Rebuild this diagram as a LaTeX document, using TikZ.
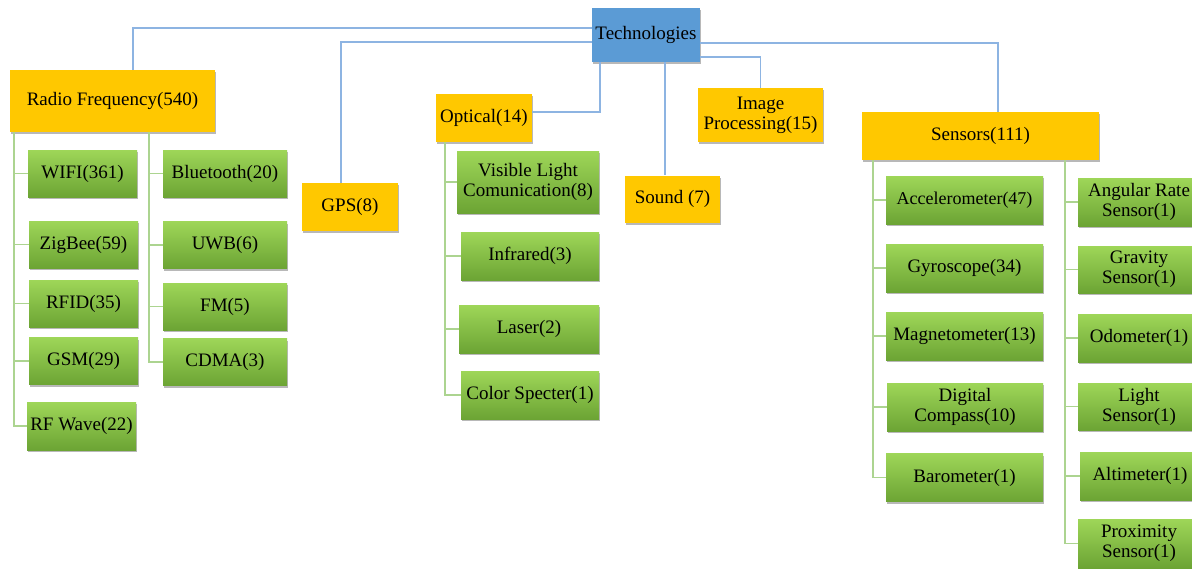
\documentclass[tikz,border=0pt]{standalone}
\usepackage{fontspec}
\setmainfont{Liberation Serif}
\usetikzlibrary{shadows}
\definecolor{techblue}{RGB}{91,155,213}
\definecolor{catyellow}{RGB}{255,200,0}
\definecolor{gtop}{RGB}{158,214,88}
\definecolor{gbot}{RGB}{108,164,52}
\definecolor{bline}{RGB}{141,180,226}
\definecolor{gline}{RGB}{172,212,144}
\tikzset{
  box/.style={inner sep=2pt, align=center, font=\fontsize{19}{20}\selectfont,
    drop shadow={shadow xshift=1.2pt, shadow yshift=-2pt, fill=black, opacity=0.28}},
  techbox/.style={box, fill=techblue},
  catbox/.style={box, fill=catyellow},
  leafbox/.style={box, top color=gtop, bottom color=gbot},
  bconn/.style={draw=bline, line width=1.5pt},
  gconn/.style={draw=gline, line width=1.5pt},
}
\newcommand{\bx}[7]{\node[#1, minimum width=#5pt, minimum height=#6pt] (#2) at (#3,#4) {#7};}
\begin{document}
\begin{tikzpicture}[x=1pt,y=-1pt]
\useasboundingbox (0,0) rectangle (1192,568);
\clip (0,0) rectangle (1192,568);
\fill[white] (0,0) rectangle (1192,568);
% top level
\bx{techbox}{tech}{646}{35}{108}{54}{Technologies}
\bx{catbox}{rf}{112.5}{101}{205}{62}{Radio Frequency(540)}
\bx{catbox}{gps}{350}{207}{96}{48}{GPS(8)}
\bx{catbox}{optical}{484}{118}{96}{48}{Optical(14)}
\bx{catbox}{sound}{672.5}{199}{95}{47}{Sound (7)}
\bx{catbox}{image}{760.5}{115}{125}{54}{Image\\Processing(15)}
\bx{catbox}{sensors}{980.5}{136}{237}{48}{Sensors(111)}
% RF children
\bx{leafbox}{wifi}{82.5}{173.5}{109}{47}{WIFI(361)}
\bx{leafbox}{zigbee}{83.5}{244.5}{109}{47}{ZigBee(59)}
\bx{leafbox}{rfid}{83.5}{303.5}{109}{47}{RFID(35)}
\bx{leafbox}{gsm}{83.5}{361}{109}{47}{GSM(29)}
\bx{leafbox}{rfwave}{81.5}{426}{109}{48}{RF Wave(22)}
\bx{leafbox}{bt}{225}{173.5}{124}{47}{Bluetooth(20)}
\bx{leafbox}{uwb}{225}{245}{124}{47}{UWB(6)}
\bx{leafbox}{fm}{225}{306.5}{124}{47}{FM(5)}
\bx{leafbox}{cdma}{225}{362}{124}{47}{CDMA(3)}
% Optical children
\bx{leafbox}{vlc}{528}{182}{142}{62}{Visible Light\\Comunication(8)}
\bx{leafbox}{infra}{530}{256}{138}{48}{Infrared(3)}
\bx{leafbox}{laser}{529}{329}{140}{48}{Laser(2)}
\bx{leafbox}{color}{530}{395}{138}{48}{Color Specter(1)}
% Sensor children
\bx{leafbox}{acc}{964.5}{200}{157}{48}{\fontsize{18}{20}\selectfont Accelerometer(47)}
\bx{leafbox}{gyro}{964.5}{268}{157}{48}{Gyroscope(34)}
\bx{leafbox}{mag}{964.5}{336}{157}{48}{Magnetometer(13)}
\bx{leafbox}{compass}{965}{407}{156}{48}{Digital\\Compass(10)}
\bx{leafbox}{baro}{964.5}{477.5}{157}{48}{Barometer(1)}
\bx{leafbox}{angular}{1139}{202}{122}{48}{Angular Rate\\Sensor(1)}
\bx{leafbox}{gravity}{1139}{269.5}{122}{47}{Gravity\\Sensor(1)}
\bx{leafbox}{odo}{1139}{338}{122}{48}{Odometer(1)}
\bx{leafbox}{light}{1139}{406.5}{122}{47}{Light\\Sensor(1)}
\bx{leafbox}{alti}{1140}{476}{120}{48}{Altimeter(1)}
\bx{leafbox}{prox}{1139}{543.5}{122}{49}{Proximity\\Sensor(1)}
% blue connectors
\draw[bconn] ([yshift=7pt]tech.west) -| ([xshift=20.5pt]rf.north);
\draw[bconn] ([yshift=-7pt]tech.west) -| ([xshift=-9pt]gps.north);
\draw[bconn] ([yshift=6pt]optical.east) -| ([xshift=-46pt]tech.south);
\draw[bconn] ([xshift=19pt]tech.south) -- ([xshift=19pt]tech.south |- sound.north);
\draw[bconn] ([yshift=-22pt]tech.east) -| (image.north);
\draw[bconn] ([yshift=-8pt]tech.east) -| ([xshift=17.5pt]sensors.north);
% green connectors RF
\foreach \c in {wifi,zigbee,rfid,gsm,rfwave}
  \draw[gconn] ([xshift=4pt]rf.south west) |- (\c.west);
\foreach \c in {bt,uwb,fm,cdma}
  \draw[gconn] ([xshift=139pt]rf.south west) |- (\c.west);
\foreach \c in {vlc,infra,laser,color}
  \draw[gconn] ([xshift=9pt]optical.south west) |- (\c.west);
\foreach \c in {acc,gyro,mag,compass,baro}
  \draw[gconn] ([xshift=11pt]sensors.south west) |- (\c.west);
\foreach \c in {angular,gravity,odo,light,alti,prox}
  \draw[gconn] ([xshift=203pt]sensors.south west) |- (\c.west);
\end{tikzpicture}
\end{document}
